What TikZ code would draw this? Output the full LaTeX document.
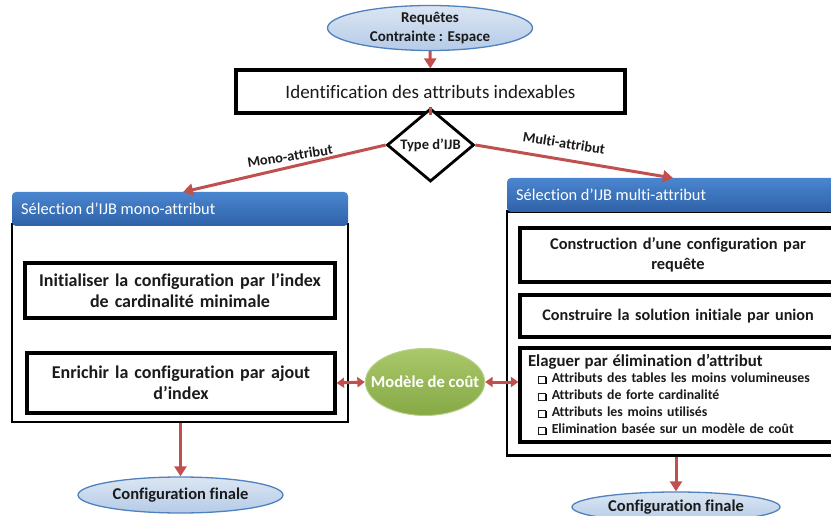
\documentclass[tikz,border=0pt]{standalone}
\usepackage{fontspec}
\setmainfont{Carlito}[Ligatures=NoCommon]
\usetikzlibrary{shapes.geometric,arrows.meta}
\definecolor{redarr}{HTML}{C0504D}
\definecolor{blueborder}{HTML}{4F81BD}
\definecolor{elltop}{HTML}{DCE6F2}
\definecolor{ellbot}{HTML}{B4CBE8}
\definecolor{hdrtop}{HTML}{4A86D0}
\definecolor{hdrbot}{HTML}{2E62A8}
\definecolor{gtop}{HTML}{A9C96A}
\definecolor{gbot}{HTML}{86A845}
\definecolor{gborder}{HTML}{B7D08A}
\definecolor{txt}{HTML}{1A1A1A}
\newcommand\sqb{\hspace*{10pt}\tikz[baseline=0pt]{\fill[black] (1.4pt,-1.4pt) rectangle (8.4pt,5.6pt); \draw[fill=white,line width=0.7pt] (0pt,0pt) rectangle (7pt,7pt);}\hspace{5pt}}
\tikzset{
  term/.style={ellipse, draw=blueborder, line width=1.3pt, top color=elltop, bottom color=ellbot, inner xsep=-8pt, inner ysep=-4pt, font=\bfseries\fontsize{16.5}{19}\selectfont, text=txt},
  redline/.style={draw=redarr, line width=3pt},
  redarrow/.style={redline, -{Triangle[length=10pt,width=12pt]}},
  dblarrow/.style={redline, {Triangle[length=7.5pt,width=10pt]}-{Triangle[length=7.5pt,width=10pt]}},
  stepbox/.style={draw=black, line width=3.2pt, fill=white, align=center, inner sep=2pt, font=\bfseries\fontsize{18}{20.5}\selectfont, text=txt},
  panel/.style={draw=black, line width=2.2pt, fill=white},
  hdrtext/.style={text=white, font=\fontsize{16.4}{18}\selectfont, anchor=west, inner sep=0pt},
  lbl/.style={font=\bfseries\fontsize{14.4}{16}\selectfont, text=txt}
}
\begin{document}
\begin{tikzpicture}[x=1pt,y=-1pt]
\useasboundingbox (0,0) rectangle (831,516);
\clip (0,0) rectangle (831,516);

% top
\node[term, minimum width=205, minimum height=45, align=center, inner ysep=-8pt, font=\bfseries\fontsize{15}{19}\selectfont] (req) at (430,28) {\raisebox{-2pt}{Requêtes}\\\raisebox{-2pt}{Contrainte : Espace}};
\node[draw=black, line width=3.2pt, fill=white, minimum width=389, minimum height=43, inner sep=0pt, font=\fontsize{19}{21}\selectfont, text=txt] (ident) at (430.5,91.5) {Identification des attributs indexables};
\node[diamond, draw=black, line width=2.8pt, fill=white, minimum width=87, minimum height=54, inner sep=0pt, font=\bfseries\fontsize{14.5}{17}\selectfont, text=txt] (type) at (430.5,145) {Type d’IJB};

\draw[redarrow] (req) -- (ident);
\draw[redline] (ident) -- (type);

% left panel
\node[panel, minimum width=336, minimum height=198, inner sep=0pt] (lpanel) at (180,323) {};
\path[top color=hdrtop, bottom color=hdrbot, rounded corners=4pt] (12,226) -- (12,192) -- (348,192) -- (348,226) -- cycle;
\node[hdrtext] (lhdr) at (21,209) {Sélection d’IJB mono-attribut};
\coordinate (ltop) at (183,192);

% right panel
\node[panel, minimum width=334, minimum height=244, inner sep=0pt] (rpanel) at (674,333.5) {};
\path[top color=hdrtop, bottom color=hdrbot, rounded corners=4pt] (507,212) -- (507,178) -- (845,178) -- (845,212) -- cycle;
\node[hdrtext] (rhdr) at (516,195) {Sélection d’IJB multi-attribut};
\coordinate (rtop) at (673,178);

\draw[redarrow] (type.west) -- (ltop);
\draw[redarrow] (type.east) -- (rtop);
\node[lbl, rotate=9] (mono) at (290,156) {Mono-attribut};
\node[lbl, rotate=-9] (multi) at (564,143) {Multi-attribut};

% left boxes
\node[stepbox, minimum width=310, minimum height=55, text width=304] (lb1) at (180,290.5) {Initialiser la configuration par l’index\\de cardinalité minimale};
\node[stepbox, minimum width=308, minimum height=60, text width=302] (lb2) at (181,383) {Enrichir la configuration par ajout\\d’index};

% right boxes
\node[stepbox, minimum width=316, minimum height=54, text width=310, font=\bfseries\fontsize{16.4}{20}\selectfont] (rb1) at (678,255) {Construction d’une configuration par\\requête};
\node[stepbox, minimum width=316, minimum height=42, text width=310, font=\bfseries\fontsize{16.2}{18}\selectfont] (rb2) at (678,316) {Construire la solution initiale par union};
\node[stepbox, minimum width=316, minimum height=94, text width=300, align=left, font=\bfseries\fontsize{13.8}{17}\selectfont, inner xsep=6pt, inner ysep=3pt] (rb3) at (678,395) {{\fontsize{16.8}{18}\selectfont Elaguer par élimination d’attribut}\\[-1pt]
\sqb Attributs des tables les moins volumineuses\\
\sqb Attributs de forte cardinalité\\
\sqb Attributs les moins utilisés\\
\sqb Elimination basée sur un modèle de coût};

% cost model
\node[ellipse, draw=gborder, line width=1pt, top color=gtop, bottom color=gbot, minimum width=119, minimum height=67, inner xsep=-12pt, inner ysep=0pt, text=white, font=\bfseries\fontsize{16.6}{18}\selectfont] (model) at (425,382) {Modèle de coût};
\draw[dblarrow] (lb2.east) -- (model.west);
\draw[dblarrow] (model.east) -- (rb3.west |- model.east);

% finals
\node[term, minimum width=205, minimum height=36] (lfin) at (180.5,495) {Configuration finale};
\node[term, minimum width=208, minimum height=30] (rfin) at (676,507) {Configuration finale};
\draw[redarrow] (lpanel.south -| lfin.north) -- (lfin.north);
\draw[redarrow] (rpanel.south -| rfin.north) -- (rfin.north);
\end{tikzpicture}
\end{document}
